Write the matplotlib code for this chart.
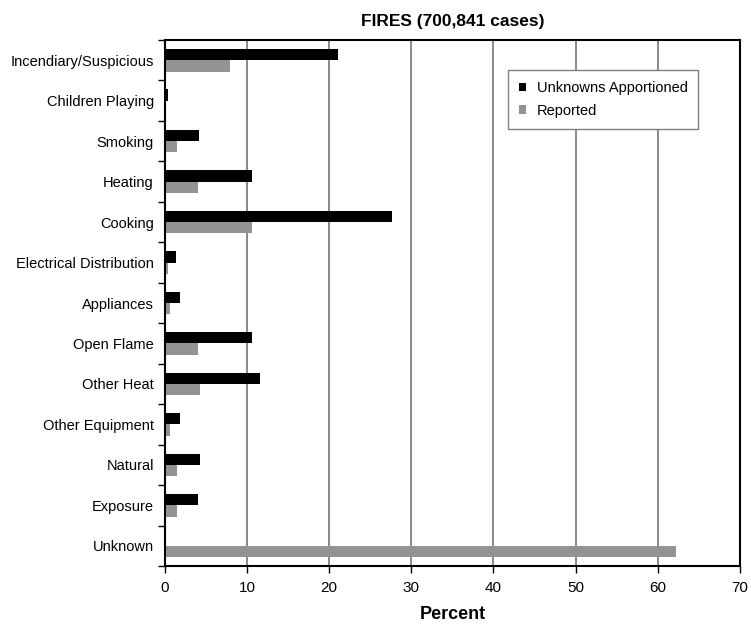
import numpy as np
import matplotlib.pyplot as plt
from matplotlib.ticker import FixedLocator

plt.rcParams['font.family'] = ['Liberation Sans', 'DejaVu Sans']

categories = ["Incendiary/Suspicious", "Children Playing", "Smoking", "Heating",
              "Cooking", "Electrical Distribution", "Appliances", "Open Flame",
              "Other Heat", "Other Equipment", "Natural", "Exposure", "Unknown"]
apportioned = [21.1, 0.4, 4.2, 10.6, 27.7, 1.3, 1.8, 10.6, 11.6, 1.8, 4.3, 4.0, 0.0]
reported = [7.9, 0.0, 1.5, 4.0, 10.6, 0.4, 0.6, 4.0, 4.3, 0.6, 1.5, 1.5, 62.2]

fig = plt.figure(figsize=(7.51, 6.26), dpi=100)
ax = fig.add_axes([0.2197, 0.0958, 0.7653, 0.8403])

y = np.arange(len(categories))
h = 0.28
ax.barh(y - h / 2, apportioned, height=h, color='black', label='Unknowns Apportioned', zorder=3)
ax.barh(y + h / 2, reported, height=h, color='#939393', label='Reported', zorder=3)

ax.set_ylim(len(categories) - 0.5, -0.5)
ax.set_xlim(0, 70)
ax.set_xticks(range(0, 71, 10))
ax.set_yticks(y)
ax.set_yticklabels(categories, fontsize=10.5)
ax.yaxis.set_minor_locator(FixedLocator(np.arange(-0.5, len(categories), 1)))
ax.tick_params(axis='y', which='major', length=0, pad=8)
ax.tick_params(axis='y', which='minor', length=5, width=1)
ax.tick_params(axis='x', length=5, width=1, labelsize=11, pad=6)

ax.grid(axis='x', color='#808080', linewidth=1.3, zorder=0)
for s in ax.spines.values():
    s.set_linewidth(1.5)
    s.set_zorder(4)

ax.set_xlabel('Percent', fontsize=13, fontweight='bold', labelpad=8)
ax.set_title('FIRES (700,841 cases)', fontsize=12.5, fontweight='bold', pad=10)

leg = ax.legend(loc='upper left', bbox_to_anchor=(0.597, 0.943), fontsize=10.5,
                fancybox=False, framealpha=1, edgecolor='#808080',
                handlelength=0.5, handleheight=0.5, borderpad=0.75,
                labelspacing=0.6, handletextpad=0.7, borderaxespad=0)
leg.get_frame().set_linewidth(1.0)

fig.savefig('out.png', dpi=100)
